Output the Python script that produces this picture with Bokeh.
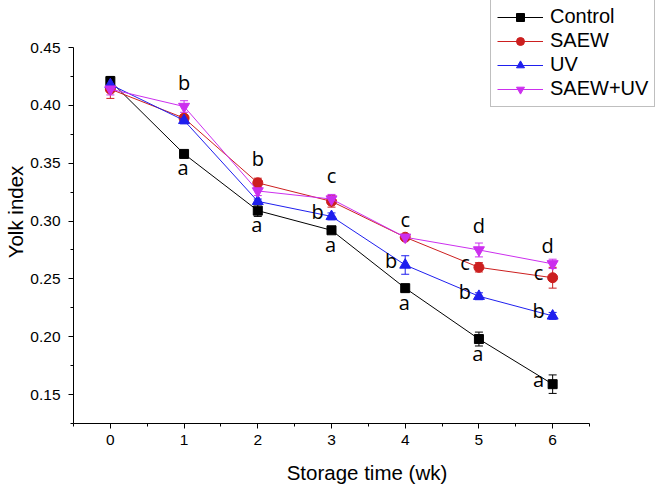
from bokeh.plotting import figure
from bokeh.models import ColumnDataSource, Whisker, TeeHead, FixedTicker, Range1d, CustomJSTickFormatter
from bokeh.core.properties import value
from bokeh.embed import file_html
from bokeh.resources import INLINE

# ---------------- data ----------------
weeks = [0, 1, 2, 3, 4, 5, 6]
series_names = ["Control", "SAEW", "UV", "SAEW+UV"]
control = [0.421, 0.358, 0.309, 0.292, 0.242, 0.198, 0.159]
control_err = [0.004, 0.002, 0.005, 0.002, 0.003, 0.006, 0.008]
saew = [0.414, 0.389, 0.333, 0.317, 0.286, 0.260, 0.251]
saew_err = [0.008, 0.003, 0.004, 0.005, 0.002, 0.004, 0.009]
uv = [0.418, 0.387, 0.317, 0.304, 0.262, 0.235, 0.218]
uv_err = [0.003, 0.003, 0.002, 0.003, 0.008, 0.003, 0.003]
saew_uv = [0.414, 0.399, 0.326, 0.319, 0.286, 0.275, 0.263]
saew_uv_err = [0.005, 0.005, 0.004, 0.004, 0.002, 0.006, 0.004]

# significance letters: week, series the letter is attached to, letter, placement
sig_weeks = [1, 1, 2, 2, 3, 3, 3, 4, 4, 4, 5, 5, 5, 5, 6, 6, 6, 6]
sig_series = ["Control", "SAEW+UV", "Control", "SAEW", "Control", "UV", "SAEW+UV",
              "Control", "UV", "SAEW+UV", "Control", "UV", "SAEW", "SAEW+UV",
              "Control", "UV", "SAEW", "SAEW+UV"]
sig_letters = ["a", "b", "a", "b", "a", "b", "c", "a", "b", "c", "a", "b", "c", "d",
               "a", "b", "c", "d"]
sig_place = ["below", "above", "below", "above", "below", "left", "above",
             "below", "left", "above_near", "below", "left", "left", "above",
             "left", "left", "left", "above_near_left"]

y_ticks = [0.15, 0.20, 0.25, 0.30, 0.35, 0.40, 0.45]
x_ticks = [0, 1, 2, 3, 4, 5, 6]
x_axis_span = (-0.5, 6.5)
y_axis_span = (0.125, 0.45)

# ---------------- styles / layout ----------------
values = {"Control": control, "SAEW": saew, "UV": uv, "SAEW+UV": saew_uv}
errors = {"Control": control_err, "SAEW": saew_err, "UV": uv_err, "SAEW+UV": saew_uv_err}
colors = {"Control": "#000000", "SAEW": "#CC1F1F", "UV": "#1F1FEE", "SAEW+UV": "#CC2FEE"}
markers = {"Control": "square", "SAEW": "circle", "UV": "triangle", "SAEW+UV": "inverted_triangle"}
msizes = {"Control": 9, "SAEW": 10, "UV": 11, "SAEW+UV": 11}
offsets = {"below": (-1, 14), "above": (0, -24), "above_near": (0, -18),
           "above_near_left": (-5, -18), "left": (-14, -5)}

FONT = "Liberation Sans"
W, H = 660, 488
AX_LEFT, AX_RIGHT, AX_TOP, AX_BOTTOM = 73, 589, 47, 423   # pixel extent of the axes

# frame covers the whole upper-right region so the legend is not clipped;
# the axes themselves are limited with 'bounds'
px_per_x = (AX_RIGHT - AX_LEFT) / (x_axis_span[1] - x_axis_span[0])
px_per_y = (AX_BOTTOM - AX_TOP) / (y_axis_span[1] - y_axis_span[0])
x_end = x_axis_span[1] + (W - AX_RIGHT) / px_per_x
y_end = y_axis_span[1] + AX_TOP / px_per_y

p = figure(width=W, height=H, output_backend="svg", toolbar_location=None,
           x_range=Range1d(x_axis_span[0], x_end), y_range=Range1d(y_axis_span[0], y_end),
           min_border_left=AX_LEFT, min_border_right=0, min_border_top=0,
           min_border_bottom=H - AX_BOTTOM)
p.outline_line_color = None
p.xgrid.visible = False
p.ygrid.visible = False
p.background_fill_color = "white"
p.border_fill_color = "white"

for name in series_names:
    ys = values[name]
    es = errors[name]
    c = colors[name]
    src = ColumnDataSource(dict(x=weeks, y=ys,
                                lower=[a - b for a, b in zip(ys, es)],
                                upper=[a + b for a, b in zip(ys, es)]))
    p.line("x", "y", source=src, line_color=c, line_width=1, legend_label=name)
    w = Whisker(base="x", upper="upper", lower="lower", source=src,
                line_color=c, line_width=1,
                upper_head=TeeHead(size=8, line_color=c, line_width=1),
                lower_head=TeeHead(size=8, line_color=c, line_width=1))
    p.add_layout(w)
    p.scatter("x", "y", source=src, marker=markers[name], size=msizes[name],
              fill_color=c, line_color=c, legend_label=name)

lx, ly, lxo, lyo = [], [], [], []
for wk, s, pl in zip(sig_weeks, sig_series, sig_place):
    lx.append(wk)
    ly.append(values[s][weeks.index(wk)])
    lxo.append(offsets[pl][0])
    lyo.append(offsets[pl][1])
lsrc = ColumnDataSource(dict(x=lx, y=ly, t=sig_letters, xo=lxo, yo=lyo))
p.text(x="x", y="y", text="t", x_offset="xo", y_offset="yo", source=lsrc,
       text_font=value("Open Sans"), text_font_size="20px", text_color="black",
       text_align="center", text_baseline="alphabetic")

# axes
for ax in (p.xaxis[0], p.yaxis[0]):
    ax.axis_line_color = "black"
    ax.axis_line_width = 1
    ax.major_tick_line_color = "black"
    ax.minor_tick_line_color = "black"
    ax.major_tick_in = 0
    ax.major_tick_out = 5
    ax.minor_tick_in = 0
    ax.minor_tick_out = 3
    ax.major_label_text_font = FONT
    ax.major_label_text_font_size = "15.5px"
    ax.major_label_text_color = "black"
    ax.axis_label_text_font = FONT
    ax.axis_label_text_font_size = "20.5px"
    ax.axis_label_text_font_style = "normal"
    ax.axis_label_text_color = "black"

p.xaxis.bounds = x_axis_span
p.yaxis.bounds = y_axis_span
p.xaxis.ticker = FixedTicker(ticks=x_ticks, minor_ticks=[t + 0.5 for t in [-1] + x_ticks])
p.yaxis.ticker = FixedTicker(ticks=y_ticks, minor_ticks=[t - 0.025 for t in y_ticks])
p.yaxis.formatter = CustomJSTickFormatter(code="return tick.toFixed(2);")
p.xaxis.axis_label = "Storage time (wk)"
p.yaxis.axis_label = "Yolk index"
p.xaxis.major_label_standoff = 6
p.yaxis.major_label_standoff = 8
p.xaxis.axis_label_standoff = 13
p.yaxis.axis_label_standoff = 0

# legend (location = bottom-left corner, measured from the frame's bottom-left)
lg = p.legend[0]
lg.location = (417, AX_BOTTOM - 107)
lg.label_text_font = FONT
lg.label_text_font_size = "20px"
lg.label_text_color = "black"
lg.glyph_width = 46
lg.glyph_height = 20
lg.label_height = 20
lg.label_standoff = 7
lg.spacing = 1
lg.padding = 6
lg.margin = 0
lg.border_line_color = "#808080"
lg.border_line_width = 1
lg.background_fill_color = "white"
lg.background_fill_alpha = 1.0

open("out.html", "w").write(file_html(p, INLINE))
